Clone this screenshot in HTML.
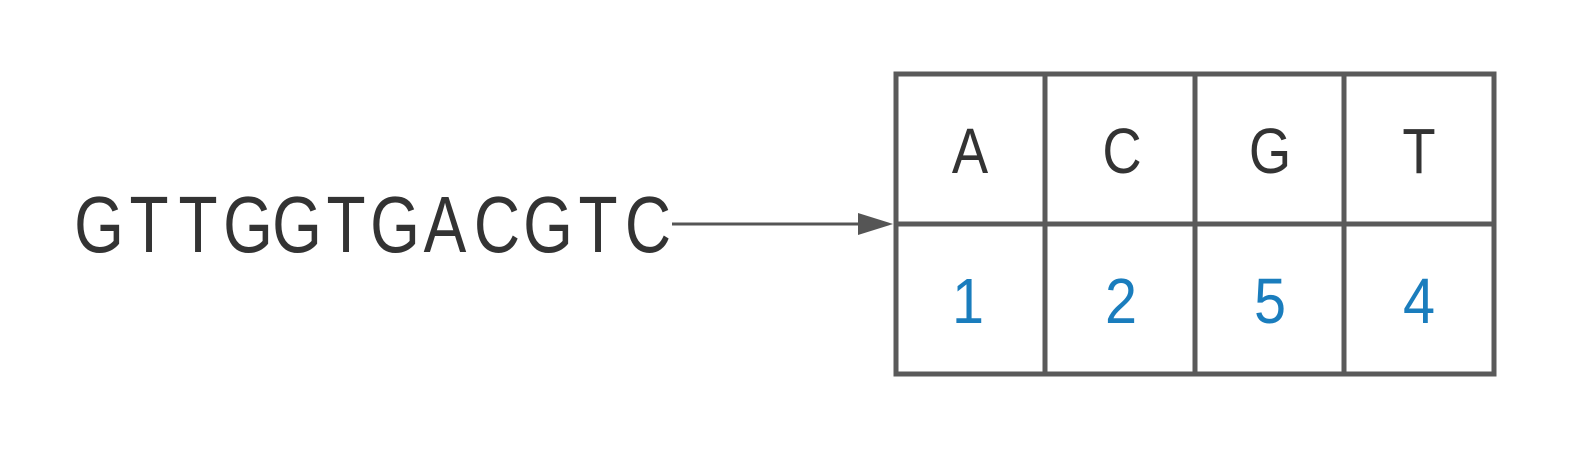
<!DOCTYPE html>
<html><head><meta charset="utf-8"><style>
html,body{margin:0;padding:0;background:#fff;}
svg{display:block;}
</style></head><body>
<svg width="1575" height="450" viewBox="0 0 1575 450" xmlns="http://www.w3.org/2000/svg">
<g font-family="Liberation Sans, DejaVu Sans, sans-serif" font-size="80" fill="#333" text-anchor="middle">
<text transform="translate(99,252) scale(0.8,1)">G</text>
<text transform="translate(149,252) scale(0.8,1)">T</text>
<text transform="translate(198,252) scale(0.8,1)">T</text>
<text transform="translate(248,252) scale(0.8,1)">G</text>
<text transform="translate(297,252) scale(0.8,1)">G</text>
<text transform="translate(346,252) scale(0.8,1)">T</text>
<text transform="translate(395,252) scale(0.8,1)">G</text>
<text transform="translate(445,252) scale(0.8,1)">A</text>
<text transform="translate(497,252) scale(0.8,1)">C</text>
<text transform="translate(548,252) scale(0.8,1)">G</text>
<text transform="translate(598,252) scale(0.8,1)">T</text>
<text transform="translate(648,252) scale(0.8,1)">C</text>
</g>
<line x1="672" y1="224" x2="862" y2="224" stroke="#555" stroke-width="3"/>
<polygon points="858,213 893,224 858,235" fill="#555"/>
<g stroke="#5a5a5a" stroke-width="5" fill="none">
<rect x="896" y="74" width="598" height="300"/>
<line x1="896" y1="224" x2="1494" y2="224"/>
<line x1="1045" y1="74" x2="1045" y2="374"/>
<line x1="1195" y1="74" x2="1195" y2="374"/>
<line x1="1344" y1="74" x2="1344" y2="374"/>
</g>
<g font-family="Liberation Sans, DejaVu Sans, sans-serif" font-size="64" text-anchor="middle" fill="#333">
<text transform="translate(970,173) scale(0.85,1)">A</text>
<text transform="translate(1122,173) scale(0.85,1)">C</text>
<text transform="translate(1270,173) scale(0.85,1)">G</text>
<text transform="translate(1419,173) scale(0.85,1)">T</text>
</g>
<g font-family="Liberation Sans, DejaVu Sans, sans-serif" font-size="64" text-anchor="middle" fill="#1a7dbd">
<text transform="translate(968,323) scale(0.9,1)">1</text>
<text transform="translate(1121,323) scale(0.9,1)">2</text>
<text transform="translate(1270,323) scale(0.9,1)">5</text>
<text transform="translate(1419,323) scale(0.9,1)">4</text>
</g>
</svg>
</body></html>
